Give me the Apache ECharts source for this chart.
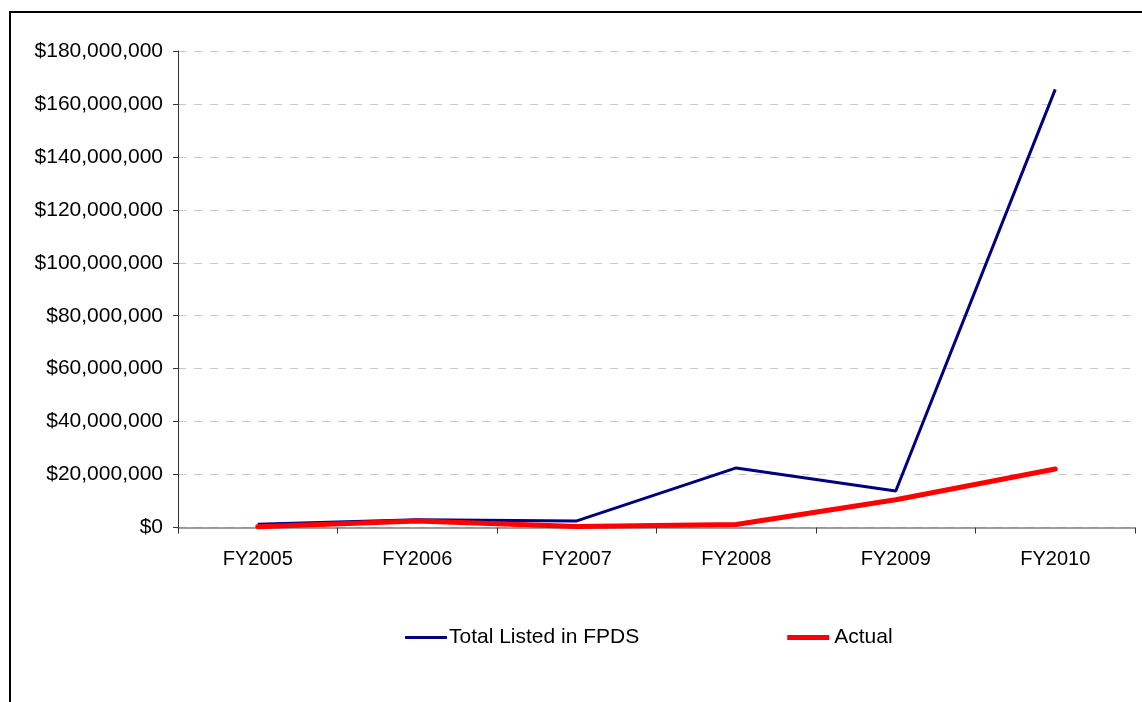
<!DOCTYPE html>
<html><head><meta charset="utf-8">
<script src="https://cdn.jsdelivr.net/npm/echarts@6/dist/echarts.min.js"></script>
<style>html,body{margin:0;padding:0;background:#fff}#c{width:1142px;height:702px}</style>
</head><body><div id="c"></div>
<script>
var categories = ['FY2005','FY2006','FY2007','FY2008','FY2009','FY2010'];
var totalFPDS = [1200000, 2900000, 2500000, 22500000, 13800000, 165500000];
var actual = [300000, 2500000, 400000, 1100000, 10500000, 22100000];
var yTicks = {min: 0, max: 180000000, interval: 20000000};

var chart = echarts.init(document.getElementById('c'));
var font = 'Liberation Sans, Arial, sans-serif';
chart.setOption({
  animation: false,
  graphic: [{type:'rect', shape:{x:10, y:12, width:1200, height:800}, style:{fill:'none', stroke:'#000', lineWidth:2}, z:-1}],
  grid: {left: 178, right: 7, top: 51, bottom: 174.5, containLabel: false},
  legend: {
    top: 627, left: 405, padding: 0, itemGap: 148, itemWidth: 42, itemHeight: 14,
    textStyle: {fontFamily: font, fontSize: 21, color: '#000', padding:[0,0,0,-3]},
    data: [
      {name:'Total Listed in FPDS', icon:'path://M0,0h42v3h-42z', itemStyle:{color:'#000080'}},
      {name:'Actual', icon:'path://M0,0h42v5h-42z', itemStyle:{color:'#ff0000'}, textStyle:{padding:[0,0,0,0]}}
    ]
  },
  xAxis: {
    type: 'category', data: categories, boundaryGap: true,
    axisLine: {lineStyle: {color: '#808080', width: 1.5}},
    axisTick: {show: true, length: 6, lineStyle: {color: '#333'}},
    axisLabel: {fontFamily: font, fontSize: 20, color: '#000', margin: 22}
  },
  yAxis: {
    type: 'value', min: yTicks.min, max: yTicks.max, interval: yTicks.interval,
    axisLine: {show: true, lineStyle: {color: '#333', width: 1}},
    axisTick: {show: true, length: 5, lineStyle: {color: '#333'}},
    splitLine: {lineStyle: {color: '#c8c8c8', type: [8, 8], width: 1}},
    axisLabel: {fontFamily: font, fontSize: 21, color: '#000', margin: 15,
      formatter: function(v){ return '$' + v.toLocaleString('en-US'); }}
  },
  series: [
    {name:'Total Listed in FPDS', type:'line', data: totalFPDS, symbol:'none',
     lineStyle:{color:'#000080', width:3}, itemStyle:{color:'#000080'}, z: 2},
    {name:'Actual', type:'line', data: actual, symbol:'none',
     lineStyle:{color:'#ff0000', width:5, cap:'round'}, itemStyle:{color:'#ff0000'}, z: 3}
  ]
});
</script></body></html>
